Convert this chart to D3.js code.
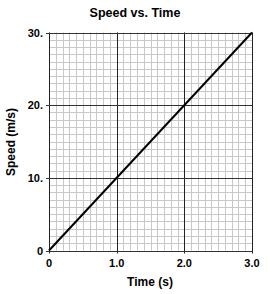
<!DOCTYPE html>
<html><head><meta charset="utf-8">
<script src="https://cdn.jsdelivr.net/npm/d3@7"></script>
<style>
body{margin:0;background:#fff;}
text{font-family:Arial,"Liberation Sans",sans-serif;font-weight:bold;fill:#000;}
</style></head>
<body><svg id="c" width="270" height="294"></svg>
<script>
const title = "Speed vs. Time";
const xLabel = "Time (s)";
const yLabel = "Speed (m/s)";
const xTicks = [0, 1, 2, 3];
const xTickLabels = ["0", "1.0", "2.0", "3.0"];
const yTicks = [0, 10, 20, 30];
const yTickLabels = ["0", "10.", "20.", "30."];
const timeData = [0, 3];
const speedData = [0, 30];

const svg = d3.select("#c");
const L = 49, R = 252, T = 32.5, B = 250.5;
const x = d3.scaleLinear().domain([0, 3]).range([L, R]);
const y = d3.scaleLinear().domain([0, 30]).range([B, T]);

// minor grid
const g = svg.append("g");
g.selectAll(".mx").data(d3.range(0, 31).map(i => i / 10)).enter().append("line")
  .attr("x1", d => Math.round(x(d)) + 0.5).attr("x2", d => Math.round(x(d)) + 0.5)
  .attr("y1", T).attr("y2", B).attr("stroke", "#c8c8c8").attr("stroke-width", 1);
g.selectAll(".my").data(d3.range(0, 31)).enter().append("line")
  .attr("y1", d => Math.round(y(d)) + 0.5).attr("y2", d => Math.round(y(d)) + 0.5)
  .attr("x1", L).attr("x2", R).attr("stroke", "#c8c8c8").attr("stroke-width", 1);
// major grid
g.selectAll(".Mx").data(xTicks).enter().append("line")
  .attr("x1", d => Math.round(x(d)) + 0.5).attr("x2", d => Math.round(x(d)) + 0.5)
  .attr("y1", T).attr("y2", B + 3).attr("stroke", "#222").attr("stroke-width", 1);
g.selectAll(".My").data(yTicks).enter().append("line")
  .attr("y1", d => Math.round(y(d)) + 0.5).attr("y2", d => Math.round(y(d)) + 0.5)
  .attr("x1", L - 3).attr("x2", R).attr("stroke", "#333").attr("stroke-width", 1);

// line
svg.append("path").datum(timeData.map((t, i) => [t, speedData[i]]))
  .attr("d", d3.line().x(d => x(d[0])).y(d => y(d[1])))
  .attr("stroke", "#000").attr("stroke-width", 2).attr("fill", "none");

// tick labels
svg.selectAll(".xl").data(xTicks).enter().append("text")
  .attr("x", d => x(d)).attr("y", 267).attr("text-anchor", "middle")
  .attr("font-size", 11).text((d, i) => xTickLabels[i]);
svg.selectAll(".yl").data(yTicks).enter().append("text")
  .attr("x", 43).attr("y", d => y(d) + 4).attr("text-anchor", "end")
  .attr("font-size", 11).text((d, i) => yTickLabels[i]);

svg.append("text").attr("x", 135).attr("y", 17).attr("text-anchor", "middle")
  .attr("font-size", 12.5).text(title);
svg.append("text").attr("x", 150).attr("y", 286).attr("text-anchor", "middle")
  .attr("font-size", 12).text(xLabel);
svg.append("text").attr("transform", "translate(15,142) rotate(-90)").attr("text-anchor", "middle")
  .attr("font-size", 12).text(yLabel);
</script></body></html>
